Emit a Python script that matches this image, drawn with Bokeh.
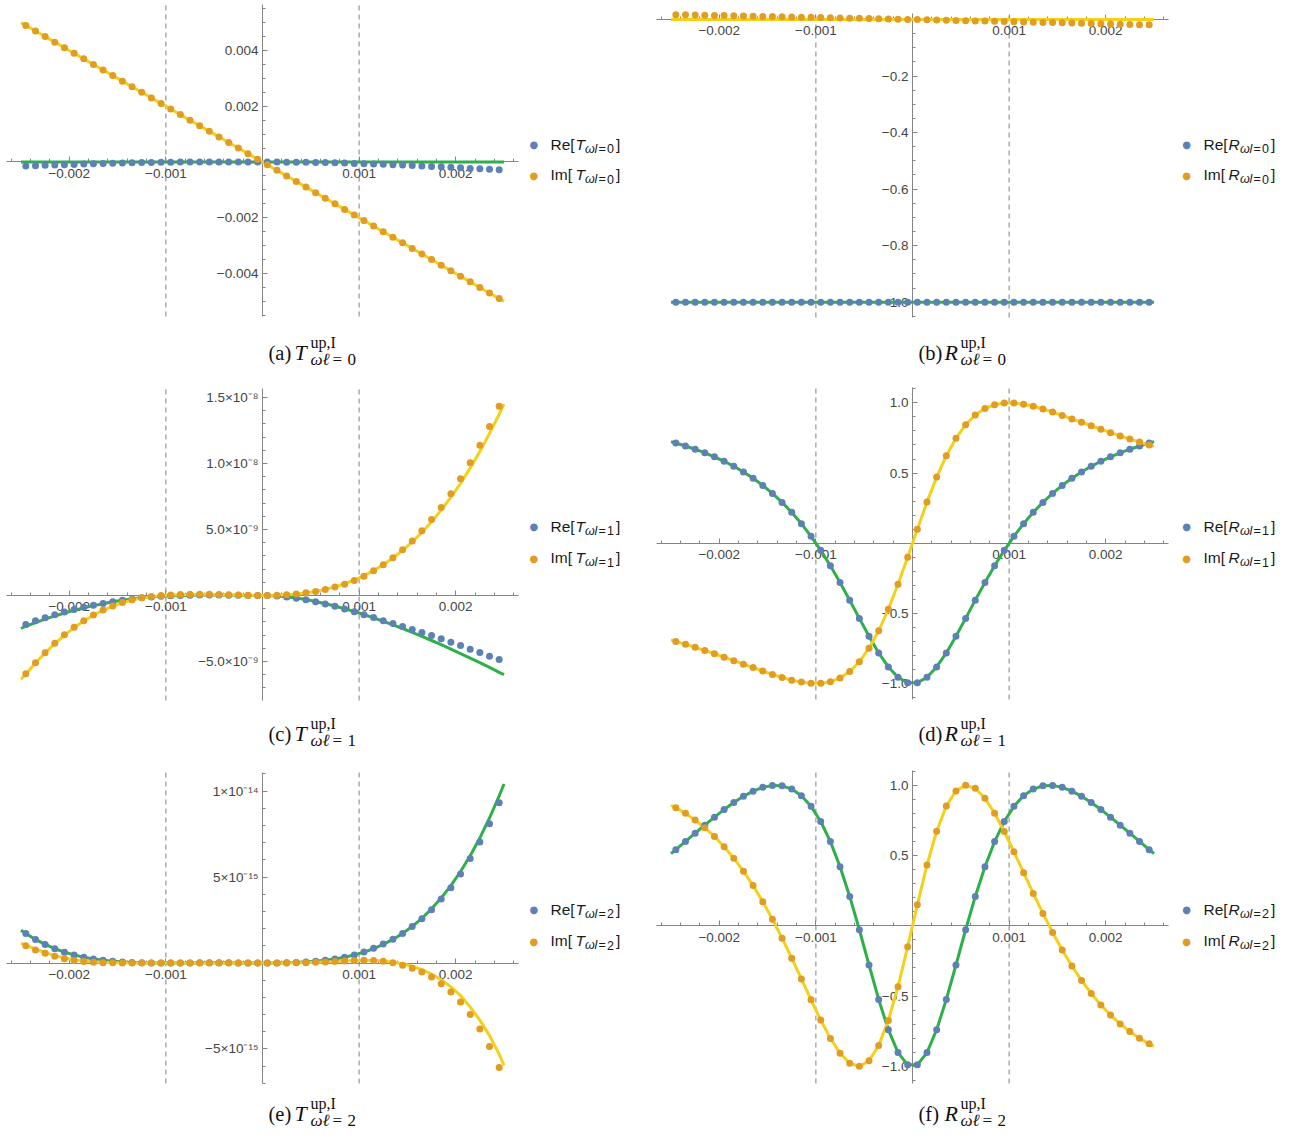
import numpy as np
from bokeh.plotting import figure
from bokeh.models import LinearAxis, FixedTicker, CustomJSTickFormatter, Label
from bokeh.layouts import column, row
from bokeh.embed import file_html
from bokeh.resources import INLINE

# ---------------- data ----------------
X_PTS = [-0.00245, -0.00235, -0.00225, -0.00215, -0.00205, -0.00195, -0.00185, -0.00175, -0.00165, -0.00155,
         -0.00145, -0.00135, -0.00125, -0.00115, -0.00105, -0.00095, -0.00085, -0.00075, -0.00065, -0.00055,
         -0.00045, -0.00035, -0.00025, -0.00015, -0.00005, 0.00005, 0.00015, 0.00025, 0.00035, 0.00045,
         0.00055, 0.00065, 0.00075, 0.00085, 0.00095, 0.00105, 0.00115, 0.00125, 0.00135, 0.00145,
         0.00155, 0.00165, 0.00175, 0.00185, 0.00195, 0.00205, 0.00215, 0.00225, 0.00235, 0.00245]
X_LINE = [-0.0025, -0.00245, -0.00235, -0.00225, -0.00215, -0.00205, -0.00195, -0.00185, -0.00175, -0.00165,
          -0.00155, -0.00145, -0.00135, -0.00125, -0.00115, -0.00105, -0.00095, -0.00085, -0.00075, -0.00065,
          -0.00055, -0.00045, -0.00035, -0.00025, -0.00015, -0.00005, 0.00005, 0.00015, 0.00025, 0.00035,
          0.00045, 0.00055, 0.00065, 0.00075, 0.00085, 0.00095, 0.00105, 0.00115, 0.00125, 0.00135,
          0.00145, 0.00155, 0.00165, 0.00175, 0.00185, 0.00195, 0.00205, 0.00215, 0.00225, 0.00235,
          0.00245, 0.0025]
GUIDES_X = [-0.001, 0.001]

# (a) T, l=0
A_RE_PTS = [-0.00014, -0.000135, -0.00012, -0.00011, -0.0001, -0.00009, -0.000075, -0.000065, -0.000055, -0.000045,
            -0.000035, -0.00003, -0.00002, -0.000015, -0.00001, -0.000005, 0.0, 0.000002, 0.000003, 0.000003,
            0.000003, 0.000002, 0.000001, 0.0, 0.0, 0.0, 0.0, -0.000005, -0.00001, -0.00001,
            -0.000015, -0.00002, -0.00003, -0.00004, -0.00005, -0.00006, -0.000075, -0.000085, -0.0001, -0.00011,
            -0.00013, -0.00014, -0.00016, -0.000175, -0.00019, -0.00021, -0.00023, -0.000245, -0.00026, -0.000275]
A_IM_PTS = [0.0049, 0.0047, 0.0045, 0.0043, 0.0041, 0.0039, 0.0037, 0.0035, 0.0033, 0.0031,
            0.0029, 0.0027, 0.0025, 0.0023, 0.0021, 0.0019, 0.0017, 0.0015, 0.0013, 0.0011,
            0.0009, 0.0007, 0.0005, 0.0003, 0.0001, -0.0001, -0.0003, -0.0005, -0.0007, -0.0009,
            -0.0011, -0.0013, -0.0015, -0.0017, -0.0019, -0.0021, -0.0023, -0.0025, -0.0027, -0.0029,
            -0.0031, -0.0033, -0.0035, -0.0037, -0.0039, -0.0041, -0.0043, -0.0045, -0.0047, -0.0049]
A_RE_LINE = [0.0, 0.0, 0.0, 0.0, 0.0, 0.0, 0.0, 0.0, 0.0, 0.0, 0.0, 0.0, 0.0, 0.0, 0.0, 0.0, 0.0, 0.0, 0.0, 0.0,
             0.0, 0.0, 0.0, 0.0, 0.0, 0.0, 0.0, 0.0, 0.0, 0.0, 0.0, 0.0, 0.0, 0.0, 0.0, 0.0, 0.0, 0.0, 0.0, 0.0,
             0.0, 0.0, 0.0, 0.0, 0.0, 0.0, 0.0, 0.0, 0.0, 0.0, 0.0, 0.0]
A_IM_LINE = [0.005, 0.0049, 0.0047, 0.0045, 0.0043, 0.0041, 0.0039, 0.0037, 0.0035, 0.0033,
             0.0031, 0.0029, 0.0027, 0.0025, 0.0023, 0.0021, 0.0019, 0.0017, 0.0015, 0.0013,
             0.0011, 0.0009, 0.0007, 0.0005, 0.0003, 0.0001, -0.0001, -0.0003, -0.0005, -0.0007,
             -0.0009, -0.0011, -0.0013, -0.0015, -0.0017, -0.0019, -0.0021, -0.0023, -0.0025, -0.0027,
             -0.0029, -0.0031, -0.0033, -0.0035, -0.0037, -0.0039, -0.0041, -0.0043, -0.0045, -0.0047,
             -0.0049, -0.005]

# (b) R, l=0
B_RE_PTS = [-1.0, -1.0, -1.0, -1.0, -1.0, -1.0, -1.0, -1.0, -1.0, -1.0, -1.0, -1.0, -1.0, -1.0, -1.0,
            -1.0, -1.0, -1.0, -1.0, -1.0, -1.0, -1.0, -1.0, -1.0, -1.0, -1.0, -1.0, -1.0, -1.0, -1.0,
            -1.0, -1.0, -1.0, -1.0, -1.0, -1.0, -1.0, -1.0, -1.0, -1.0, -1.0, -1.0, -1.0, -1.0, -1.0,
            -1.0, -1.0, -1.0, -1.0, -1.0]
B_IM_PTS = [0.0170, 0.0164, 0.0158, 0.0152, 0.0145, 0.0138, 0.0131, 0.0124, 0.0117, 0.0110,
            0.0103, 0.0096, 0.0089, 0.0082, 0.0075, 0.0068, 0.0061, 0.0054, 0.0047, 0.0040,
            0.0033, 0.0026, 0.0019, 0.0011, 0.0004, -0.0004, -0.0011, -0.0019, -0.0026, -0.0034,
            -0.0041, -0.0049, -0.0056, -0.0064, -0.0071, -0.0079, -0.0087, -0.0094, -0.0102, -0.0110,
            -0.0118, -0.0126, -0.0134, -0.0142, -0.0150, -0.0158, -0.0166, -0.0174, -0.0182, -0.0190]
B_RE_LINE = [-1.0, -1.0, -1.0, -1.0, -1.0, -1.0, -1.0, -1.0, -1.0, -1.0, -1.0, -1.0, -1.0, -1.0, -1.0,
             -1.0, -1.0, -1.0, -1.0, -1.0, -1.0, -1.0, -1.0, -1.0, -1.0, -1.0, -1.0, -1.0, -1.0, -1.0,
             -1.0, -1.0, -1.0, -1.0, -1.0, -1.0, -1.0, -1.0, -1.0, -1.0, -1.0, -1.0, -1.0, -1.0, -1.0,
             -1.0, -1.0, -1.0, -1.0, -1.0, -1.0, -1.0]
B_IM_LINE = [0.0, 0.0, 0.0, 0.0, 0.0, 0.0, 0.0, 0.0, 0.0, 0.0, 0.0, 0.0, 0.0, 0.0, 0.0, 0.0, 0.0, 0.0, 0.0, 0.0,
             0.0, 0.0, 0.0, 0.0, 0.0, 0.0, 0.0, 0.0, 0.0, 0.0, 0.0, 0.0, 0.0, 0.0, 0.0, 0.0, 0.0, 0.0, 0.0, 0.0,
             0.0, 0.0, 0.0, 0.0, 0.0, 0.0, 0.0, 0.0, 0.0, 0.0, 0.0, 0.0]

# (c) T, l=1
C_RE_PTS = [-2.20e-9, -1.92e-9, -1.68e-9, -1.46e-9, -1.25e-9, -1.06e-9, -0.89e-9, -0.74e-9, -0.60e-9, -0.47e-9,
            -0.36e-9, -0.26e-9, -0.18e-9, -0.11e-9, -0.06e-9, -0.02e-9, 0.0, 0.02e-9, 0.03e-9, 0.03e-9,
            0.03e-9, 0.02e-9, 0.01e-9, 0.0, 0.0, -0.005e-9, -0.04e-9, -0.11e-9, -0.21e-9, -0.33e-9,
            -0.47e-9, -0.64e-9, -0.82e-9, -1.02e-9, -1.24e-9, -1.46e-9, -1.67e-9, -1.92e-9, -2.12e-9, -2.35e-9,
            -2.58e-9, -2.80e-9, -3.03e-9, -3.28e-9, -3.54e-9, -3.79e-9, -4.07e-9, -4.32e-9, -4.60e-9, -4.85e-9]
C_IM_PTS = [-5.93e-9, -5.10e-9, -4.33e-9, -3.62e-9, -2.98e-9, -2.41e-9, -1.91e-9, -1.47e-9, -1.10e-9, -0.79e-9,
            -0.53e-9, -0.33e-9, -0.18e-9, -0.08e-9, -0.01e-9, 0.03e-9, 0.07e-9, 0.09e-9, 0.10e-9, 0.09e-9,
            0.07e-9, 0.05e-9, 0.03e-9, 0.01e-9, 0.0, 0.0, 0.02e-9, 0.06e-9, 0.12e-9, 0.20e-9,
            0.31e-9, 0.46e-9, 0.64e-9, 0.86e-9, 1.13e-9, 1.46e-9, 1.87e-9, 2.32e-9, 2.85e-9, 3.46e-9,
            4.12e-9, 4.90e-9, 5.76e-9, 6.67e-9, 7.70e-9, 8.84e-9, 10.05e-9, 11.39e-9, 12.80e-9, 14.34e-9]
C_RE_LINE = [-2.50e-9, -2.33e-9, -2.05e-9, -1.79e-9, -1.55e-9, -1.33e-9, -1.12e-9, -0.94e-9, -0.77e-9, -0.62e-9,
             -0.48e-9, -0.36e-9, -0.26e-9, -0.17e-9, -0.10e-9, -0.05e-9, -0.02e-9, 0.0, 0.02e-9, 0.03e-9,
             0.03e-9, 0.03e-9, 0.02e-9, 0.01e-9, 0.0, 0.0, -0.004e-9, -0.038e-9, -0.10e-9, -0.19e-9,
             -0.31e-9, -0.45e-9, -0.62e-9, -0.80e-9, -1.00e-9, -1.21e-9, -1.44e-9, -1.69e-9, -1.95e-9, -2.22e-9,
             -2.50e-9, -2.80e-9, -3.10e-9, -3.41e-9, -3.73e-9, -4.06e-9, -4.40e-9, -4.74e-9, -5.09e-9, -5.45e-9,
             -5.82e-9, -6.00e-9]
C_IM_LINE = [-6.35e-9, -5.95e-9, -5.12e-9, -4.35e-9, -3.64e-9, -3.00e-9, -2.43e-9, -1.93e-9, -1.49e-9, -1.12e-9,
             -0.81e-9, -0.55e-9, -0.35e-9, -0.20e-9, -0.09e-9, -0.02e-9, 0.03e-9, 0.06e-9, 0.08e-9, 0.09e-9,
             0.09e-9, 0.07e-9, 0.05e-9, 0.03e-9, 0.01e-9, 0.0, 0.0, 0.02e-9, 0.05e-9, 0.11e-9,
             0.19e-9, 0.31e-9, 0.46e-9, 0.65e-9, 0.89e-9, 1.17e-9, 1.50e-9, 1.89e-9, 2.33e-9, 2.84e-9,
             3.42e-9, 4.06e-9, 4.78e-9, 5.58e-9, 6.47e-9, 7.44e-9, 8.50e-9, 9.65e-9, 10.91e-9, 12.27e-9,
             13.73e-9, 14.50e-9]

# (d) R, l=1
D_RE_PTS = [0.714, 0.693, 0.670, 0.644, 0.616, 0.584, 0.548, 0.508, 0.463, 0.412,
            0.355, 0.291, 0.220, 0.139, 0.049, -0.051, -0.161, -0.280, -0.406, -0.536,
            -0.663, -0.782, -0.882, -0.956, -0.995, -0.995, -0.956, -0.882, -0.782, -0.663,
            -0.536, -0.406, -0.280, -0.161, -0.051, 0.049, 0.139, 0.220, 0.291, 0.355,
            0.412, 0.463, 0.508, 0.548, 0.584, 0.616, 0.644, 0.670, 0.693, 0.714]
D_IM_PTS = [-0.700, -0.721, -0.742, -0.765, -0.788, -0.812, -0.837, -0.862, -0.886, -0.911,
            -0.935, -0.957, -0.976, -0.990, -0.999, -0.999, -0.987, -0.960, -0.914, -0.845,
            -0.748, -0.624, -0.471, -0.293, -0.100, 0.100, 0.293, 0.471, 0.624, 0.748,
            0.845, 0.914, 0.960, 0.987, 0.999, 0.999, 0.990, 0.976, 0.957, 0.935,
            0.911, 0.886, 0.862, 0.837, 0.812, 0.788, 0.765, 0.742, 0.721, 0.700]
D_RE_LINE = [0.724, 0.714, 0.693, 0.670, 0.644, 0.616, 0.584, 0.548, 0.508, 0.463, 0.412,
             0.355, 0.291, 0.220, 0.139, 0.049, -0.051, -0.161, -0.280, -0.406, -0.536,
             -0.663, -0.782, -0.882, -0.956, -0.995, -0.995, -0.956, -0.882, -0.782, -0.663,
             -0.536, -0.406, -0.280, -0.161, -0.051, 0.049, 0.139, 0.220, 0.291, 0.355,
             0.412, 0.463, 0.508, 0.548, 0.584, 0.616, 0.644, 0.670, 0.693, 0.714, 0.724]
D_IM_LINE = [-0.690, -0.700, -0.721, -0.742, -0.765, -0.788, -0.812, -0.837, -0.862, -0.886, -0.911,
             -0.935, -0.957, -0.976, -0.990, -0.999, -0.999, -0.987, -0.960, -0.914, -0.845,
             -0.748, -0.624, -0.471, -0.293, -0.100, 0.100, 0.293, 0.471, 0.624, 0.748,
             0.845, 0.914, 0.960, 0.987, 0.999, 0.999, 0.990, 0.976, 0.957, 0.935,
             0.911, 0.886, 0.862, 0.837, 0.812, 0.788, 0.765, 0.742, 0.721, 0.700, 0.690]

# (e) T, l=2
E_RE_PTS = [1.72e-15, 1.37e-15, 1.08e-15, 0.83e-15, 0.63e-15, 0.47e-15, 0.34e-15, 0.23e-15, 0.16e-15, 0.10e-15,
            0.06e-15, 0.03e-15, 0.01e-15, 0.0, 0.0, 0.0, 0.0, 0.0, 0.01e-15, 0.01e-15,
            0.01e-15, 0.01e-15, 0.0, 0.0, 0.0, 0.0, 0.0, 0.01e-15, 0.03e-15, 0.06e-15,
            0.10e-15, 0.16e-15, 0.23e-15, 0.34e-15, 0.47e-15, 0.64e-15, 0.86e-15, 1.11e-15, 1.38e-15, 1.71e-15,
            2.12e-15, 2.58e-15, 3.10e-15, 3.72e-15, 4.38e-15, 5.17e-15, 6.07e-15, 7.03e-15, 8.10e-15, 9.32e-15]
E_IM_PTS = [1.01e-15, 0.76e-15, 0.56e-15, 0.39e-15, 0.25e-15, 0.14e-15, 0.08e-15, 0.04e-15, 0.02e-15, 0.01e-15,
            0.0, 0.0, 0.0, 0.0, 0.0, 0.0, 0.0, 0.0, 0.0, 0.0,
            0.0, 0.0, 0.0, 0.0, 0.0, 0.0, 0.0, 0.0, 0.01e-15, 0.02e-15,
            0.04e-15, 0.06e-15, 0.09e-15, 0.12e-15, 0.14e-15, 0.16e-15, 0.14e-15, 0.10e-15, 0.02e-15, -0.13e-15,
            -0.30e-15, -0.53e-15, -0.82e-15, -1.20e-15, -1.68e-15, -2.27e-15, -2.99e-15, -3.84e-15, -4.85e-15, -6.07e-15]
E_RE_LINE = [1.91e-15, 1.72e-15, 1.37e-15, 1.08e-15, 0.83e-15, 0.63e-15, 0.47e-15, 0.34e-15, 0.23e-15, 0.16e-15,
             0.10e-15, 0.06e-15, 0.03e-15, 0.01e-15, 0.0, 0.0, 0.0, 0.0, 0.0, 0.01e-15,
             0.01e-15, 0.01e-15, 0.01e-15, 0.0, 0.0, 0.0, 0.0, 0.0, 0.01e-15, 0.03e-15,
             0.06e-15, 0.10e-15, 0.16e-15, 0.23e-15, 0.34e-15, 0.47e-15, 0.63e-15, 0.83e-15, 1.08e-15, 1.37e-15,
             1.72e-15, 2.13e-15, 2.60e-15, 3.15e-15, 3.78e-15, 4.50e-15, 5.32e-15, 6.24e-15, 7.27e-15, 8.43e-15,
             9.72e-15, 10.41e-15]
E_IM_LINE = [1.15e-15, 1.04e-15, 0.80e-15, 0.60e-15, 0.43e-15, 0.29e-15, 0.19e-15, 0.12e-15, 0.07e-15, 0.04e-15,
             0.02e-15, 0.01e-15, 0.0, 0.0, 0.0, 0.0, 0.0, 0.0, 0.0, 0.0,
             0.0, 0.0, 0.0, 0.0, 0.0, 0.0, 0.0, 0.0, 0.0, 0.01e-15,
             0.02e-15, 0.04e-15, 0.06e-15, 0.09e-15, 0.12e-15, 0.14e-15, 0.16e-15, 0.15e-15, 0.12e-15, 0.05e-15,
             -0.04e-15, -0.19e-15, -0.39e-15, -0.64e-15, -0.97e-15, -1.39e-15, -1.90e-15, -2.55e-15, -3.32e-15, -4.22e-15,
             -5.30e-15, -5.95e-15]

# (f) R, l=2
F_RE_PTS = [0.542, 0.600, 0.659, 0.716, 0.773, 0.827, 0.877, 0.921, 0.958, 0.985,
            0.999, 0.996, 0.973, 0.926, 0.850, 0.742, 0.599, 0.420, 0.209, -0.028,
            -0.279, -0.524, -0.739, -0.902, -0.989, -0.989, -0.902, -0.739, -0.524, -0.279,
            -0.028, 0.209, 0.420, 0.599, 0.742, 0.850, 0.926, 0.973, 0.996, 0.999,
            0.985, 0.958, 0.921, 0.877, 0.827, 0.773, 0.716, 0.659, 0.600, 0.542]
F_IM_PTS = [0.840, 0.800, 0.752, 0.698, 0.635, 0.563, 0.481, 0.389, 0.286, 0.172,
            0.047, -0.088, -0.230, -0.378, -0.527, -0.671, -0.801, -0.907, -0.978, -1.000,
            -0.960, -0.852, -0.673, -0.433, -0.149, 0.149, 0.433, 0.673, 0.852, 0.960,
            1.000, 0.978, 0.907, 0.801, 0.671, 0.527, 0.378, 0.230, 0.088, -0.047,
            -0.172, -0.286, -0.389, -0.481, -0.563, -0.635, -0.698, -0.752, -0.800, -0.840]
F_RE_LINE = [0.514, 0.542, 0.600, 0.659, 0.716, 0.773, 0.827, 0.877, 0.921, 0.958, 0.985,
             0.999, 0.996, 0.973, 0.926, 0.850, 0.742, 0.599, 0.420, 0.209, -0.028,
             -0.279, -0.524, -0.739, -0.902, -0.989, -0.989, -0.902, -0.739, -0.524, -0.279,
             -0.028, 0.209, 0.420, 0.599, 0.742, 0.850, 0.926, 0.973, 0.996, 0.999,
             0.985, 0.958, 0.921, 0.877, 0.827, 0.773, 0.716, 0.659, 0.600, 0.542, 0.514]
F_IM_LINE = [0.858, 0.840, 0.800, 0.752, 0.698, 0.635, 0.563, 0.481, 0.389, 0.286, 0.172,
             0.047, -0.088, -0.230, -0.378, -0.527, -0.671, -0.801, -0.907, -0.978, -1.000,
             -0.960, -0.852, -0.673, -0.433, -0.149, 0.149, 0.433, 0.673, 0.852, 0.960,
             1.000, 0.978, 0.907, 0.801, 0.671, 0.527, 0.378, 0.230, 0.088, -0.047,
             -0.172, -0.286, -0.389, -0.481, -0.563, -0.635, -0.698, -0.752, -0.800, -0.840, -0.858]

# tick labels
X_MAJOR = [-0.002, -0.001, 0.001, 0.002]
X_LABELS = ["\u22120.002", "\u22120.001", "0.001", "0.002"]
A_YT = [-0.004, -0.002, 0.002, 0.004]
A_YL = ["\u22120.004", "\u22120.002", "0.002", "0.004"]
B_YT = [-1.0, -0.8, -0.6, -0.4, -0.2]
B_YL = ["\u22121.0", "\u22120.8", "\u22120.6", "\u22120.4", "\u22120.2"]
C_YT = [-5e-9, 5e-9, 1e-8, 1.5e-8]
C_YL = ["\u22125.0\u00d710\u207b\u2079", "5.0\u00d710\u207b\u2079", "1.0\u00d710\u207b\u2078", "1.5\u00d710\u207b\u2078"]
D_YT = [-1.0, -0.5, 0.5, 1.0]
D_YL = ["\u22121.0", "\u22120.5", "0.5", "1.0"]
E_YT = [-5e-15, 5e-15, 1e-14]
E_YL = ["\u22125\u00d710\u207b\u00b9\u2075", "5\u00d710\u207b\u00b9\u2075", "1\u00d710\u207b\u00b9\u2074"]

# ---------------- styling ----------------
BLUE = "#5E81B5"
ORANGE = "#E19C24"
GREEN = "#2DB04A"
YELLOW = "#F4D018"
AXIS = "#858585"
TICKTXT = "#454545"
DASHC = "#808080"
XR = (-0.00265, 0.00265)
FW = 512


def minor_list(lo, hi, step, majors):
    out = []
    k0 = int(np.ceil(lo / step - 1e-6))
    k1 = int(np.floor(hi / step + 1e-6))
    for k in range(k0, k1 + 1):
        v = k * step
        if abs(v) < step * 1e-3:
            continue
        if any(abs(v - m) < step * 1e-3 for m in majors):
            continue
        out.append(v)
    return out


def style_axis(ax, standoff):
    ax.axis_line_color = AXIS
    ax.axis_line_width = 1
    ax.major_tick_line_color = AXIS
    ax.minor_tick_line_color = AXIS
    ax.major_tick_in = 5
    ax.major_tick_out = 0
    ax.minor_tick_in = 3
    ax.minor_tick_out = 0
    ax.major_label_text_font = "Liberation Sans"
    ax.major_label_text_font_size = "13.5px"
    ax.major_label_text_color = TICKTXT
    ax.major_label_standoff = standoff
    ax.level = "underlay"


def add_label(p, H, X, Yc, text, font="Liberation Sans", size="15px", color="#1a1a1a",
              style="normal", align="left"):
    # X: left edge, Yc: vertical centre of the text box, both in pixels from the figure's top-left corner
    p.add_layout(Label(x=X, y=H - Yc, x_units="screen", y_units="screen", text=text,
                       text_font=font, text_font_size=size, text_color=color, text_font_style=style,
                       text_baseline="middle", text_align=align))


def make_panel(W, H, bl, bt, bb, yr, re_p, im_p, re_l, im_l, yt, yl, ystep,
               sym, lval, letter, dot_x, text_x, y_re, y_im, cap_c):
    br = W - bl - FW
    fh = H - bt - bb
    kx = (XR[1] - XR[0]) / FW
    ky = (yr[1] - yr[0]) / fh
    xfull = (XR[0] - bl * kx, XR[1] + br * kx)
    yfull = (yr[0] - bb * ky, yr[1] + bt * ky)
    p = figure(width=W, height=H, x_range=xfull, y_range=yfull, output_backend="svg",
               toolbar_location=None, title=None, x_axis_location=None, y_axis_location=None,
               min_border=0, outline_line_color=None,
               background_fill_color="white", border_fill_color="white")
    p.grid.visible = False

    xa = LinearAxis(fixed_location=0, bounds=XR,
                    ticker=FixedTicker(ticks=X_MAJOR, minor_ticks=minor_list(XR[0], XR[1], 0.0002, X_MAJOR)),
                    formatter=CustomJSTickFormatter(args=dict(labels=X_LABELS), code="return labels[index];"))
    style_axis(xa, 7)
    p.add_layout(xa, "below")
    ya = LinearAxis(fixed_location=0, bounds=yr,
                    ticker=FixedTicker(ticks=yt, minor_ticks=minor_list(yr[0], yr[1], ystep, yt)),
                    formatter=CustomJSTickFormatter(args=dict(labels=yl), code="return labels[index];"))
    style_axis(ya, 4)
    p.add_layout(ya, "left")

    p.segment(x0=GUIDES_X, y0=[yr[0], yr[0]], x1=GUIDES_X, y1=[yr[1], yr[1]],
              line_color=DASHC, line_width=1, line_dash="5 4", level="underlay")

    p.line(X_LINE, re_l, line_color=GREEN, line_width=3, line_join="round")
    p.line(X_LINE, im_l, line_color=YELLOW, line_width=3, line_join="round")
    p.scatter(X_PTS, re_p, size=7, fill_color=BLUE, line_color=None)
    p.scatter(X_PTS, im_p, size=7, fill_color=ORANGE, line_color=None)

    extra = 2 if sym == "R" else 0
    for y, pre, col in [(y_re, "Re[", BLUE), (y_im, "Im[", ORANGE)]:
        add_label(p, H, dot_x, y - 1.5, "\u25cf", font="DejaVu Sans", size="10px", color=col, align="center")
        add_label(p, H, text_x, y - 2, pre, size="15.5px")
        add_label(p, H, text_x + 25, y - 2, sym, size="15.5px", style="italic")
        sy = y + 2.5
        add_label(p, H, text_x + 34.5 + extra, sy, "\u03c9", size="12.5px", style="italic")
        add_label(p, H, text_x + 44 + extra, sy, "l", size="12.5px", style="italic")
        add_label(p, H, text_x + 48 + extra, sy, "=", size="12.5px")
        add_label(p, H, text_x + 56.5 + extra, sy, lval, size="12.5px")
        add_label(p, H, text_x + 65.5 + extra, y - 2, "]", size="15.5px")

    serif = "Liberation Serif"
    ink = "#111111"
    x0 = 268
    add_label(p, H, x0, cap_c, "(" + letter + ")", font=serif, size="20.5px", color=ink)
    add_label(p, H, x0 + 26, cap_c, sym, font=serif, size="22px", color=ink, style="italic")
    add_label(p, H, x0 + 42, cap_c - 10, "up,I", font=serif, size="16px", color=ink)
    add_label(p, H, x0 + 42, cap_c + 7, "\u03c9\u2113", font=serif, size="17px", color=ink, style="italic")
    add_label(p, H, x0 + 64, cap_c + 7, "=", font=serif, size="17px", color=ink)
    add_label(p, H, x0 + 79, cap_c + 7, lval, font=serif, size="17px", color=ink)
    return p


pa = make_panel(650, 378, 6, 4, 62, (-0.005543, 0.005650), A_RE_PTS, A_IM_PTS, A_RE_LINE, A_IM_LINE,
                A_YT, A_YL, 0.0005, "T", "0", "a", 533.3, 550, 145.5, 176, 352)
pb = make_panel(649, 378, 6, 13, 61, (-1.0541, 0.0212), B_RE_PTS, B_IM_PTS, B_RE_LINE, B_IM_LINE,
                B_YT, B_YL, 0.05, "R", "0", "b", 536, 553, 145.5, 176, 352)
pc = make_panel(650, 378, 6, 10, 56, (-7.955e-9, 15.68e-9), C_RE_PTS, C_IM_PTS, C_RE_LINE, C_IM_LINE,
                C_YT, C_YL, 1e-9, "T", "1", "c", 533.3, 550, 149.5, 181, 355)
pd = make_panel(649, 378, 6, 9, 57, (-1.114, 1.1098), D_RE_PTS, D_IM_PTS, D_RE_LINE, D_IM_LINE,
                D_YT, D_YL, 0.1, "R", "1", "d", 536, 553, 149.5, 181, 355)
pe = make_panel(650, 379, 6, 16, 52, (-7.006e-15, 11.076e-15), E_RE_PTS, E_IM_PTS, E_RE_LINE, E_IM_LINE,
                E_YT, E_YL, 1e-15, "T", "2", "e", 533.3, 550, 154.5, 186, 357)
pf = make_panel(649, 379, 6, 14, 52, (-1.122, 1.105), F_RE_PTS, F_IM_PTS, F_RE_LINE, F_IM_LINE,
                D_YT, D_YL, 0.1, "R", "2", "f", 536, 553, 154.5, 186, 357)

layout = column(row(pa, pb), row(pc, pd), row(pe, pf))
open("out.html", "w").write(file_html(layout, INLINE))
